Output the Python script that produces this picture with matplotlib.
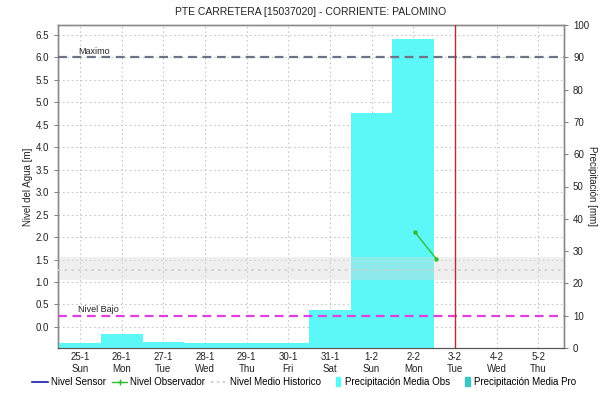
import matplotlib
matplotlib.use("Agg")
import matplotlib.pyplot as plt
import matplotlib.dates as mdates
import matplotlib.transforms as mtransforms
from matplotlib.lines import Line2D
from matplotlib.patches import Patch, Rectangle
from matplotlib.legend_handler import HandlerPatch
import pandas as pd
import numpy as np

plt.rcParams['font.family'] = ['Liberation Sans', 'DejaVu Sans']

title = "PTE CARRETERA [15037020] - CORRIENTE: PALOMINO"
days = ["2015-01-25", "2015-01-26", "2015-01-27", "2015-01-28", "2015-01-29", "2015-01-30",
        "2015-01-31", "2015-02-01", "2015-02-02", "2015-02-03", "2015-02-04", "2015-02-05"]
day_labels = ["25-1\nSun", "26-1\nMon", "27-1\nTue", "28-1\nWed", "29-1\nThu", "30-1\nFri",
              "31-1\nSat", "1-2\nSun", "2-2\nMon", "3-2\nTue", "4-2\nWed", "5-2\nThu"]
precip_days = ["2015-01-25", "2015-01-26", "2015-01-27", "2015-01-28", "2015-01-29",
               "2015-01-30", "2015-01-31", "2015-02-01", "2015-02-02"]
precip_obs = [1.5, 4.3, 1.8, 1.7, 1.4, 1.7, 11.8, 72.8, 95.6]
obs_times = ["2015-02-02 00:45", "2015-02-02 13:10"]
obs_level = [2.12, 1.52]
hist_mean = 1.27
hist_band = (1.04, 1.55)
nivel_max = 6.0
nivel_bajo = 0.25
now_time = "2015-02-03 00:00"

fig = plt.figure(figsize=(6.15, 4.01), dpi=100)
ax = fig.add_axes([58/615, 1-348/401, (564-58)/615, (348-25)/401])
ax2 = ax.twinx()

d = pd.to_datetime(days)
pdays = mdates.date2num(pd.to_datetime(precip_days))
x0 = mdates.date2num(d[0])

# level axis (behind, with grid)
ax.set_ylim(-0.46875, 6.71875)
ax.set_yticks(np.arange(0, 6.6, 0.5))
ax.set_yticklabels([f"{v:.1f}" for v in np.arange(0, 6.6, 0.5)])
ax.set_xlim(x0 - 0.53, x0 + 11.62)
ax.set_xticks(mdates.date2num(d))
ax.set_xticklabels(day_labels)
ax.grid(True, color='#c8c8c8', linestyle=(0, (1.5, 2.5)), linewidth=0.8)

# precipitation axis (front)
bar_color = '#5cf8f8'
ax2.bar(pdays, precip_obs, width=1.0, color=bar_color, zorder=1, linewidth=0)
ax2.set_ylim(0, 100)
ax2.set_yticks(np.arange(0, 101, 10))
ax2.set_xlim(ax.get_xlim())

# level marks drawn on top of bars, in level coordinates
lev = ax.transData
blend = mtransforms.blended_transform_factory(ax.transAxes, ax.transData)
ax2.fill_between([0, 1], [hist_band[0]] * 2, [hist_band[1]] * 2, transform=blend,
                 color='#d9d9d9', alpha=0.4, lw=0, zorder=2)
ax2.plot([0, 1], [hist_mean] * 2, transform=blend, color='#cfcfcf',
         linestyle=(0, (1.5, 2.5)), linewidth=1.2, zorder=3)
ax2.plot([0, 1], [nivel_max] * 2, transform=blend, color='#6b7384',
         linestyle=(0, (4, 2.5)), linewidth=1.6, zorder=3)
ax2.plot([0, 1], [nivel_bajo] * 2, transform=blend, color='#e040e0',
         linestyle=(0, (4, 2.5)), linewidth=1.6, zorder=3)
ax2.text(x0 - 0.05, nivel_max + 0.04, "Maximo", transform=lev, fontsize=6.5,
         va='bottom', ha='left', color='#222222', zorder=5)
ax2.text(x0 - 0.05, nivel_bajo + 0.04, "Nivel Bajo", transform=lev, fontsize=6.5,
         va='bottom', ha='left', color='#222222', zorder=5)

ot = mdates.date2num(pd.to_datetime(obs_times))
ax2.plot(ot, obs_level, transform=lev, color='#33bb33', linewidth=1.0,
         marker='o', markersize=2.2, zorder=4)

ax2.axvline(mdates.date2num(pd.Timestamp(now_time)), color='#b03030', linewidth=1.0, zorder=4)

for a in (ax, ax2):
    for s in ('left', 'right', 'top'):
        a.spines[s].set_color('#8a8a8a')
        a.spines[s].set_linewidth(1.0)
    a.spines['bottom'].set_color('#555555')
    a.spines['bottom'].set_linestyle((0, (1, 1)))
    a.tick_params(labelsize=7, colors='#222222', length=3, width=0.6)
ax.tick_params(axis='y', color='#666666')
ax2.tick_params(axis='y', color='#666666')
ax.tick_params(axis='x', length=0, pad=3)

ax.set_title(title, fontsize=7.5, pad=7, color='#222222')
ax.set_ylabel("Nivel del Agua [m]", fontsize=7, labelpad=2, color='#222222')
ax2.set_ylabel("Precipitación [mm]", fontsize=7, rotation=270, labelpad=6, color='#222222')


def narrow_patch(legend, orig_handle, xdescent, ydescent, width, height, fontsize):
    return Rectangle((xdescent + width * 0.6, ydescent - height * 0.15), width * 0.3, height * 1.3)

handles = [
    Line2D([], [], color='#1a1aaa', linewidth=1.2),
    Line2D([], [], color='#33bb33', linewidth=1.0, marker='+', markersize=4),
    Line2D([], [], color='#c8c8c8', linestyle=(0, (1.5, 2)), linewidth=1.2),
    Patch(color=bar_color),
    Patch(color='#3fc4c4'),
]
labels = ["Nivel Sensor", "Nivel Observador", "Nivel Medio Historico",
          "Precipitación Media Obs", "Precipitación Media Pro"]
fig.legend(handles, labels, loc='center', bbox_to_anchor=(0.495, 1 - 382 / 401), ncol=5,
           fontsize=7, frameon=False, handlelength=1.6, handletextpad=0.3, columnspacing=0.6,
           handler_map={Patch: HandlerPatch(patch_func=narrow_patch)})

fig.savefig("out.png", dpi=100)
